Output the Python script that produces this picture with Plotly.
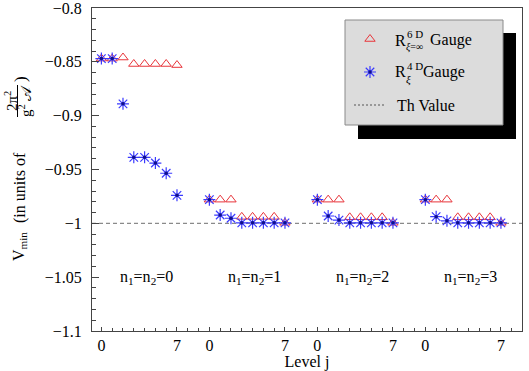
import plotly.graph_objects as go

# ---------------- data ----------------
levels = [0, 1, 2, 3, 4, 5, 6, 7]
groups = [0, 1, 2, 3]
group_labels = ["n<sub>1</sub>=n<sub>2</sub>=0", "n<sub>1</sub>=n<sub>2</sub>=1",
                "n<sub>1</sub>=n<sub>2</sub>=2", "n<sub>1</sub>=n<sub>2</sub>=3"]

r6d_n0 = [-0.847, -0.847, -0.846, -0.852, -0.852, -0.852, -0.852, -0.853]
r6d_n1 = [-0.978, -0.978, -0.978, -0.994, -0.994, -0.994, -0.994, -0.9995]
r6d_n2 = [-0.978, -0.978, -0.978, -0.9944, -0.9944, -0.9944, -0.9944, -0.9995]
r6d_n3 = [-0.978, -0.978, -0.978, -0.9944, -0.9944, -0.9944, -0.9944, -0.9995]

r4d_n0 = [-0.847, -0.847, -0.889, -0.9387, -0.9387, -0.944, -0.9535, -0.974]
r4d_n1 = [-0.978, -0.9923, -0.9953, -0.9995, -0.9995, -0.9995, -0.9995, -0.9995]
r4d_n2 = [-0.978, -0.9932, -0.997, -0.9995, -0.9995, -0.9995, -0.9995, -0.9995]
r4d_n3 = [-0.978, -0.9938, -0.9977, -0.9995, -0.9995, -0.9995, -0.9995, -0.9995]

TH_VALUE = -1.0

x_tick_labels = ["0", "7", "0", "7", "0", "7", "0", "7"]
y_tick_values = [-1.1, -1.05, -1.0, -0.95, -0.9, -0.85, -0.8]
y_tick_labels = ["\u22121.1", "\u22121.05", "\u22121", "\u22120.95", "\u22120.9", "\u22120.85", "\u22120.8"]

# ---------------- layout helpers ----------------
W, H = 529, 371
ML, MR, MT, MB = 92, 7, 8, 40
PW, PH = W - ML - MR, H - MT - MB
GROUP_STEP = 10


def px(x):
    return (x - ML) / PW


def py(y):
    return (H - MB - y) / PH


FONT = "'Liberation Serif', 'Times New Roman', Times, serif"
RED = "#e8343a"
BLUE = "#3a3aff"
DARKBLUE = "#10108a"

r6d = [r6d_n0, r6d_n1, r6d_n2, r6d_n3]
r4d = [r4d_n0, r4d_n1, r4d_n2, r4d_n3]

xs, y6, y4 = [], [], []
for g in groups:
    for j in levels:
        xs.append(GROUP_STEP * g + j)
    y6 += r6d[g]
    y4 += r4d[g]

tri = dict(symbol="triangle-up-open", size=9, color=RED, line=dict(width=1, color=RED))
star = dict(symbol="asterisk-open", size=10, color=BLUE, line=dict(width=1.2, color=BLUE))
dot = dict(symbol="circle", size=3.5, color=DARKBLUE, line=dict(width=0))

fig = go.Figure()
fig.add_trace(go.Scatter(x=xs, y=y6, mode="markers", marker=tri))
fig.add_trace(go.Scatter(x=xs, y=y4, mode="markers", marker=star))
fig.add_trace(go.Scatter(x=xs, y=y4, mode="markers", marker=dot))

# legend keys on an overlay axis pair in paper-like coordinates
fig.add_trace(go.Scatter(x=[px(370)], y=[py(39)], xaxis="x2", yaxis="y2", mode="markers", marker=tri))
fig.add_trace(go.Scatter(x=[px(370)], y=[py(72)], xaxis="x2", yaxis="y2", mode="markers", marker=star))
fig.add_trace(go.Scatter(x=[px(370)], y=[py(72)], xaxis="x2", yaxis="y2", mode="markers", marker=dot))

shapes = [
    dict(type="line", xref="paper", yref="y", x0=0, x1=1, y0=TH_VALUE, y1=TH_VALUE,
         line=dict(color="#8a8a8a", width=1.2, dash="4px,3px"), layer="below"),
    dict(type="rect", xref="paper", yref="paper", x0=px(358), x1=px(516), y0=py(139), y1=py(33),
         fillcolor="black", line=dict(width=0), layer="below"),
    dict(type="rect", xref="paper", yref="paper", x0=px(345), x1=px(503), y0=py(125), y1=py(20),
         fillcolor="#dcdcdc", line=dict(width=1, color="#8a8a8a"), layer="below"),
    dict(type="line", xref="paper", yref="paper", x0=px(354), x1=px(386), y0=py(105), y1=py(105),
         line=dict(color="#555555", width=1, dash="2px,2px")),
    # fraction bar in the y-axis title
    dict(type="line", xref="paper", yref="paper", x0=px(17.5), x1=px(17.5), y0=py(117), y1=py(85),
         line=dict(color="black", width=1)),
]

ann = []


def text(x, y, s, size=16, xanchor="left", angle=0, yanchor="middle"):
    ann.append(dict(x=px(x), y=py(y), xref="paper", yref="paper", text=s, showarrow=False,
                    xanchor=xanchor, yanchor=yanchor, textangle=angle,
                    font=dict(family=FONT, size=size, color="black")))


# legend text
text(393, 40, "R")
text(404.5, 34, "6 D", size=11)
text(404, 47, "<i>\u03be</i>=\u221e", size=10)
text(428, 40, "Gauge")
text(393, 72, "R")
text(404.5, 66, "4 D", size=11)
text(404, 79, "<i>\u03be</i>", size=11)
text(421, 72, "Gauge")
text(395, 105, "Th Value")

# y-axis title pieces (rotated)
text(19, 247, "V<sub>min</sub>", size=16, xanchor="center", angle=-90)
text(20, 188, "(in units of", size=16, xanchor="center", angle=-90)
text(11, 101, "2\u03c0<sup>2</sup>", size=15, xanchor="center", angle=-90)
text(25, 101, "g<sup>2</sup> \U0001D49C", size=15, xanchor="center", angle=-90)
text(20, 79, ")", size=17, xanchor="center", angle=-90)

# group labels
for g in groups:
    ann.append(dict(x=GROUP_STEP * g + 4.15, y=-1.05, xref="x", yref="y", text=group_labels[g],
                    showarrow=False, xanchor="center", yanchor="middle",
                    font=dict(family=FONT, size=16, color="black")))

axis_common = dict(showgrid=False, zeroline=False, showline=True, linecolor="#444444",
                   linewidth=1, mirror=True, ticks="inside", tickcolor="#444444",
                   tickfont=dict(family=FONT, size=16, color="black"), automargin=False,
                   ticklabeloverflow="allow")

fig.update_layout(
    width=W, height=H, autosize=False,
    margin=dict(l=ML, r=MR, t=MT, b=MB, pad=0),
    paper_bgcolor="white", plot_bgcolor="white",
    showlegend=False,
    shapes=shapes, annotations=ann,
    xaxis=dict(range=[-0.87, 38.95], tickvals=[GROUP_STEP * g + j for g in groups for j in (0, 7)],
               ticktext=x_tick_labels, ticklen=4,
               minor=dict(dtick=1, tick0=0, ticks="inside", ticklen=3, tickcolor="#444444"),
               title=dict(text="Level j", font=dict(family=FONT, size=16, color="black"), standoff=1),
               ticklabelstandoff=0, **axis_common),
    yaxis=dict(range=[-1.1, -0.8], tickvals=y_tick_values, ticktext=y_tick_labels, ticklen=7,
               minor=dict(dtick=0.01, tick0=-1.1, ticks="inside", ticklen=4, tickcolor="#444444"),
               ticklabelstandoff=6, **axis_common),
    xaxis2=dict(range=[0, 1], overlaying="x", anchor="y2", visible=False),
    yaxis2=dict(range=[0, 1], overlaying="y", anchor="x2", visible=False),
)

fig.write_html("out.html")
